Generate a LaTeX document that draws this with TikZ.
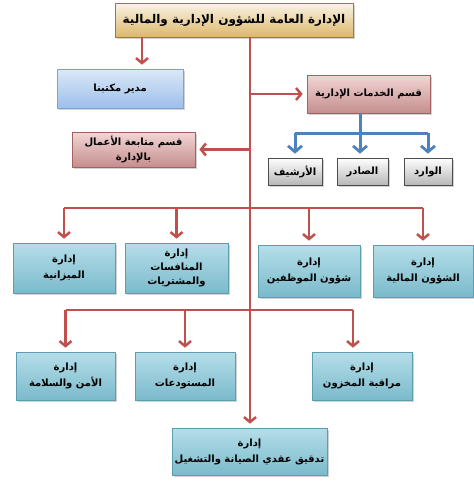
\documentclass[tikz,border=0pt]{standalone}
\usepackage{fontspec}
\usepackage{tikz}
\usetikzlibrary{arrows.meta,shadows,calc}
\newfontfamily\arabicfont[Script=Arabic]{DejaVu Sans}
\TeXXeTstate=1
\newcommand{\ar}[1]{{\arabicfont\bfseries\beginR #1\endR}}
\definecolor{redln}{HTML}{C0504D}
\definecolor{blueln}{HTML}{4F81BD}
\tikzset{
  obox/.style={rectangle,draw=#1,line width=0.6pt,align=center,inner sep=2pt,
    font=\fontsize{10}{16}\selectfont,
    drop shadow={shadow xshift=2pt,shadow yshift=-2pt,opacity=0.35}},
  gold/.style={obox=gold!70!black,top color=gold!15,bottom color=gold!90},
  bluebox/.style={obox=bluedk,top color=bluelt,bottom color=bluemd},
  rose/.style={obox=rosedk,top color=roselt,bottom color=rosemd},
  teal/.style={obox=tealdk,top color=teallt,bottom color=tealmd},
  grey/.style={obox=black!70,top color=white,bottom color=black!28},
  redline/.style={draw=redln,line width=2.5pt},
  redarr/.style={redline,-{Straight Barb[length=5pt,width=12pt,line width=2.5pt]},shorten >=4pt},
  blueline/.style={draw=blueln,line width=3pt},
  bluearr/.style={blueline,-{Straight Barb[length=6pt,width=14pt,line width=2.8pt]},shorten >=4pt}
}
\definecolor{gold}{HTML}{D9B05A}
\definecolor{bluelt}{HTML}{DCE8F8}
\definecolor{bluemd}{HTML}{9CBFEA}
\definecolor{bluedk}{HTML}{7FA3CF}
\definecolor{roselt}{HTML}{F3D5D5}
\definecolor{rosemd}{HTML}{C58E8E}
\definecolor{rosedk}{HTML}{A06262}
\definecolor{teallt}{HTML}{B5DEE9}
\definecolor{tealmd}{HTML}{7BBACB}
\definecolor{tealdk}{HTML}{5E9DB0}
\begin{document}
\begin{tikzpicture}[x=1pt,y=-1pt]
\useasboundingbox[fill=white] (0,0) rectangle (474,483);
% boxes
\node[gold,minimum width=238pt,minimum height=34pt,font=\fontsize{12}{14}\selectfont] (title) at (234,20) {\ar{الإدارة العامة للشؤون الإدارية والمالية}};
\node[bluebox,minimum width=126pt,minimum height=39pt] (mdr) at (120,88.5) {\ar{مدير مكتبنا}};
\node[rose,minimum width=123pt,minimum height=38pt] (khd) at (368.5,94) {\ar{قسم الخدمات الإدارية}};
\node[rose,minimum width=123pt,minimum height=35pt,inner sep=0pt] (mtb) at (133.5,149.5) {\ar{قسم متابعة الأعمال}\\[-1pt]\ar{بالإدارة}};
\node[grey,minimum width=54pt,minimum height=27pt] (arsh) at (295,171.5) {\ar{الأرشيف}};
\node[grey,minimum width=51pt,minimum height=27pt] (sadr) at (362.5,171.5) {\ar{الصادر}};
\node[grey,minimum width=48pt,minimum height=27pt] (ward) at (428,171.5) {\ar{الوارد}};
% first row
\node[teal,minimum width=102pt,minimum height=50pt] (mzn) at (64,268) {\ar{إدارة}\\\ar{الميزانية}};
\node[teal,minimum width=103pt,minimum height=50pt] (mnf) at (176.5,268) {\ar{إدارة}\\[-2pt]\ar{المنافسات}\\[-2pt]\ar{والمشتريات}};
\node[teal,minimum width=102pt,minimum height=52pt] (mwz) at (309,271) {\ar{إدارة}\\\ar{شؤون الموظفين}};
\node[teal,minimum width=100pt,minimum height=52pt] (mal) at (423,271) {\ar{إدارة}\\\ar{الشؤون المالية}};
% second row
\node[teal,minimum width=99pt,minimum height=48pt] (amn) at (65.5,376) {\ar{إدارة}\\\ar{الأمن والسلامة}};
\node[teal,minimum width=100pt,minimum height=48pt] (mst) at (185,376) {\ar{إدارة}\\\ar{المستودعات}};
\node[teal,minimum width=100pt,minimum height=48pt] (mkh) at (362,376) {\ar{إدارة}\\\ar{مراقبة المخزون}};
\node[teal,minimum width=155pt,minimum height=47pt] (tdq) at (249.5,451.5) {\ar{إدارة}\\\ar{تدقيق عقدي الصيانة والتشغيل}};
% connectors
\coordinate (top) at (250,37);
\coordinate (tm) at (142,37);
\coordinate (r1) at (250,208);
\coordinate (r2) at (250,310);
\coordinate (mk) at (353,310);
\coordinate (b1) at (360,133);
\draw[redarr] (top) -- (top |- tdq.north);
\draw[redarr] (tm) -- (tm |- mdr.north);
\draw[redarr] (top |- khd.west) -- (khd.west);
\draw[redarr] (top |- mtb.east) -- (mtb.east);
\draw[redline] (mzn.north |- r1) -- (mal.north |- r1);
\foreach \n in {mzn,mnf,mwz,mal}
  \draw[redarr] (\n.north |- r1) -- (\n.north);
\draw[redline] (amn.north |- r2) -- (mk);
\draw[redarr] (amn.north |- r2) -- (amn.north);
\draw[redarr] (mst.north |- r2) -- (mst.north);
\draw[redarr] (mk) -- (mk |- mkh.north);
\draw[blueline] (khd.south -| b1) -- (b1);
\draw[blueline] (arsh.north |- b1) -- (ward.north |- b1);
\draw[bluearr] (arsh.north |- b1) -- (arsh.north);
\draw[bluearr] (b1) -- (b1 |- sadr.north);
\draw[bluearr] (ward.north |- b1) -- (ward.north);
\end{tikzpicture}
\end{document}
